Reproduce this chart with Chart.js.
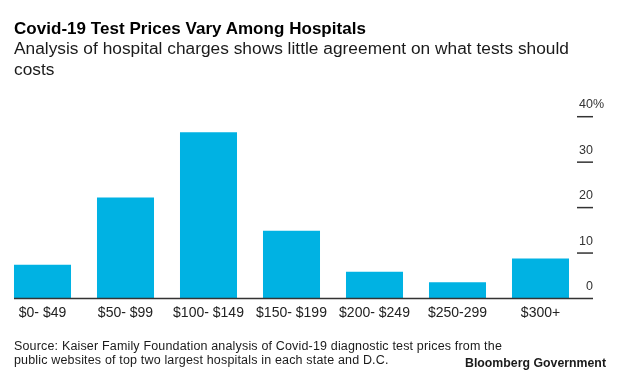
<!DOCTYPE html>
<html><head><meta charset="utf-8">
<script src="https://cdn.jsdelivr.net/npm/chart.js@4.4.0/dist/chart.umd.min.js"></script>
<style>
html,body{margin:0;padding:0;background:#fff;}
#wrap{position:relative;width:620px;height:379px;overflow:hidden;font-family:"Liberation Sans",Arial,sans-serif;}
canvas{position:absolute;left:0;top:0;}
.t{position:absolute;white-space:nowrap;}
#title{left:14px;top:19px;font-size:17px;line-height:20px;font-weight:bold;color:#000;}
#sub{left:14px;top:37.5px;font-size:17.3px;line-height:21px;color:#1a1a1a;}
#src{left:14px;top:339.4px;font-size:12.5px;line-height:14px;color:#1a1a1a;}
#brand{left:465px;top:356.2px;font-size:12.3px;line-height:14px;font-weight:bold;color:#1a1a1a;}
</style>
</head><body>
<div id="wrap">
<canvas id="c" width="620" height="379"></canvas>
<div class="t" id="title"><span id="t1">Covid-19 Test Prices Vary Among Hospitals</span></div>
<div class="t" id="sub"><span id="s1">Analysis of hospital charges shows little agreement on what tests should</span><br><span id="s2">costs</span></div>
<div class="t" id="src"><span id="r1">Source: Kaiser Family Foundation analysis of Covid-19 diagnostic test prices from the</span><br><span id="r2">public websites of top two largest hospitals in each state and D.C.</span></div>
<div class="t" id="brand"><span id="b1">Bloomberg Government</span></div>
</div>
<script>
const categories = ['$0- $49', '$50- $99', '$100- $149', '$150- $199', '$200- $249', '$250-299', '$300+'];
const shares = [7.4, 22.2, 36.6, 14.9, 5.9, 3.6, 8.8];
const yTicks = [0, 10, 20, 30, 40];
const yUnit = '%';

function fit(id, target, others) {
  const el = document.getElementById(id);
  const w = el.getBoundingClientRect().width;
  const n = el.textContent.length;
  const ls = (target - w) / n;
  el.style.letterSpacing = ls + 'px';
  (others || []).forEach(o => document.getElementById(o).style.letterSpacing = ls + 'px');
}
fit('t1', 352);
fit('s1', 555, ['s2']);
fit('r1', 488, ['r2']);
fit('b1', 141);

const FONT = '"Liberation Sans", Arial, sans-serif';

const axisPlugin = {
  id: 'axisPlugin',
  afterDatasetsDraw(chart) {
    const ctx = chart.ctx;
    const y = chart.scales.y;
    const area = chart.chartArea;
    const x0 = area.left + 13, x1 = area.right + 11, tx0 = area.right - 5;
    ctx.save();
    ctx.strokeStyle = '#333';
    ctx.lineWidth = 1.5;
    ctx.fillStyle = '#333';
    ctx.font = '12.5px ' + FONT;
    ctx.textBaseline = 'alphabetic';
    yTicks.forEach((v, i) => {
      const py = y.getPixelForValue(v);
      ctx.beginPath();
      if (v === 0) { ctx.moveTo(x0, py); ctx.lineTo(x1, py); }
      else { ctx.moveTo(tx0, py); ctx.lineTo(x1, py); }
      ctx.stroke();
      ctx.textAlign = 'right';
      ctx.fillText(String(v), x1, py - 8.5);
      if (i === yTicks.length - 1) {
        ctx.textAlign = 'left';
        ctx.fillText(yUnit, x1, py - 8.5);
      }
    });
    ctx.restore();
  }
};

new Chart(document.getElementById('c'), {
  type: 'bar',
  data: {
    labels: categories,
    datasets: [{
      data: shares,
      backgroundColor: '#00b2e3',
      borderWidth: 0,
      barPercentage: 0.687,
      categoryPercentage: 1
    }]
  },
  options: {
    responsive: false,
    animation: false,
    events: [],
    layout: { padding: { left: 1, right: 38, top: 116.7, bottom: 51.7 } },
    plugins: { legend: { display: false }, tooltip: { enabled: false }, title: { display: false } },
    scales: {
      x: {
        grid: { display: false, drawTicks: false },
        border: { display: false },
        ticks: { font: { family: FONT, size: 14 }, color: '#222', padding: 6, maxRotation: 0, autoSkip: false }
      },
      y: { display: false, min: 0, max: 40, position: 'right' }
    }
  },
  plugins: [axisPlugin]
});
</script>
</body></html>
